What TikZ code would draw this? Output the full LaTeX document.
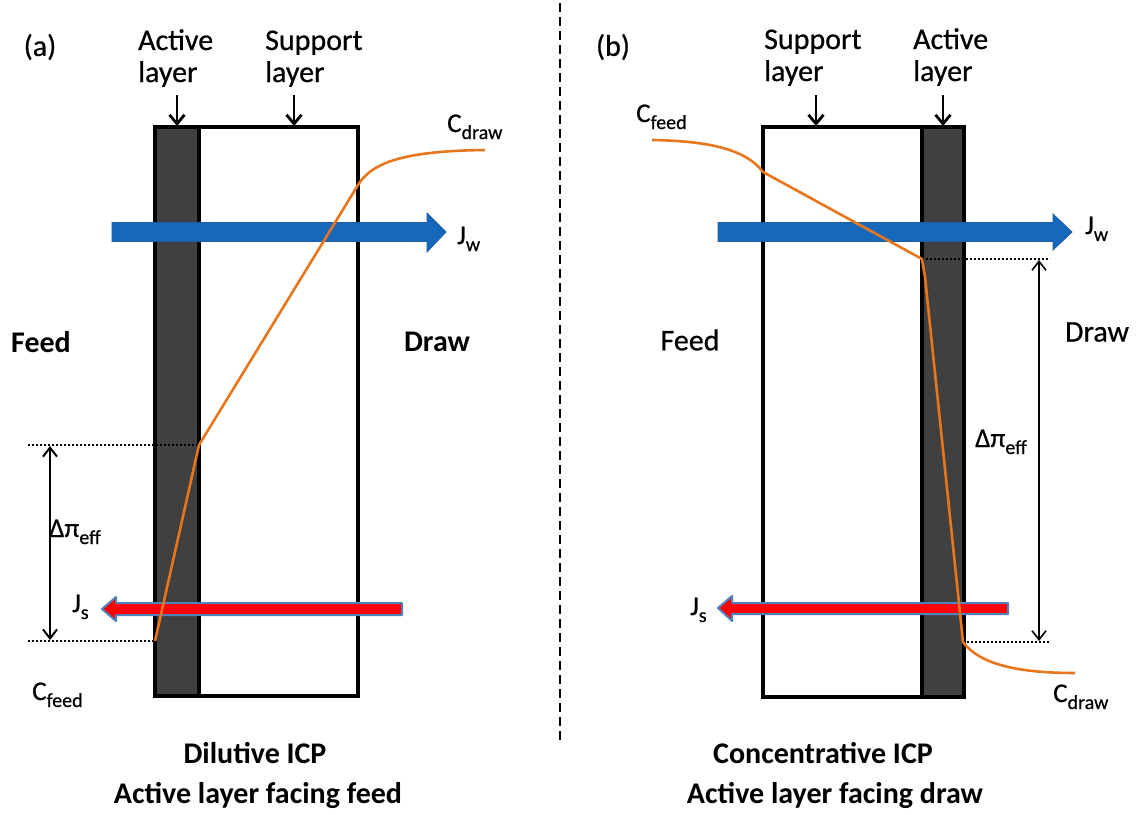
\documentclass[tikz,border=0pt]{standalone}
\usepackage{fontspec}
\setmainfont{Carlito}[UprightFeatures={FakeBold=0.6}]
\usetikzlibrary{arrows.meta}
\definecolor{jwblue}{RGB}{22,104,186}
\definecolor{jwedge}{RGB}{30,90,160}
\definecolor{jsred}{RGB}{255,0,0}
\definecolor{jsedge}{RGB}{79,129,189}
\definecolor{profilecol}{RGB}{232,118,28}
\definecolor{activegray}{RGB}{64,64,64}
\newcommand\subtxt[1]{\raisebox{-7pt}{\fontsize{20}{20}\selectfont #1}}
\begin{document}
\begin{tikzpicture}[x=1pt,y=-1pt,
  lbl/.style={inner sep=0pt, font=\fontsize{30}{36}\selectfont},
  lblb/.style={inner sep=0pt, font=\fontsize{30}{36}\selectfont\bfseries},
  conc/.style={inner sep=0pt, font=\fontsize{27}{32}\selectfont},
  memb/.style={line width=3.2pt},
  pointer/.style={line width=2.8pt, -{Straight Barb[length=9pt,width=15pt]}},
  dimarrow/.style={line width=2pt, {Straight Barb[length=9pt,width=14pt]}-{Straight Barb[length=9pt,width=14pt]}},
  guide/.style={line width=2pt, dash pattern=on 2pt off 2pt},
  profile/.style={draw=profilecol, line width=2.6pt, line join=round},
  waterflux/.style={fill=jwblue, draw=jwedge, line width=0.8pt},
  soluteflux/.style={fill=jsred, draw=jsedge, line width=2pt, line join=round},
  divider/.style={line width=2.5pt, dash pattern=on 9pt off 5pt}
]
\useasboundingbox (0,0) rectangle (1137,814);

% divider
\coordinate (divtop) at (560,3);
\coordinate (divbot) at (560,740);
\draw[divider] (divtop) -- (divbot);

% ================= panel (a) =================
\draw[memb, fill=white] (155,127) rectangle (358,696);
\draw[memb, fill=activegray] (155,127) rectangle (199,696);

\node[lbl, anchor=center] (tagA) at (40,47) {(a)};
\node[lbl, anchor=base west] (actA1) at (138,50) {Active};
\node[lbl, anchor=base west] (actA2) at (138,82) {layer};
\node[lbl, anchor=base west] (supA1) at (265,50) {Support};
\node[lbl, anchor=base west] (supA2) at (265,82) {layer};
\coordinate (pA1s) at (177,95); \coordinate (pA1e) at (177,126);
\coordinate (pA2s) at (294,95); \coordinate (pA2e) at (294,126);
\draw[pointer] (pA1s) -- (pA1e);
\draw[pointer] (pA2s) -- (pA2e);

% Jw arrow (a)
\draw[waterflux] (112,222.5) -- (427,222.5) -- (427,213) -- (446,232) -- (427,252) -- (427,241.5) -- (112,241.5) -- cycle;
\node[conc, anchor=base west] (jwA) at (457,244) {J\subtxt{w}};

% Js arrow (a)
\draw[soluteflux] (402,603) -- (116,603) -- (116,597) -- (102,609) -- (116,621) -- (116,615) -- (402,615) -- cycle;
\node[conc, anchor=base west] (jsA) at (72,612) {J\subtxt{s}};

% guides (a)
\coordinate (gA1a) at (28,445); \coordinate (gA1b) at (199,445);
\coordinate (gA2a) at (28,641); \coordinate (gA2b) at (155,641);
\draw[guide] (gA1a) -- (gA1b);
\draw[guide] (gA2a) -- (gA2b);
\coordinate (dA1) at (50,446); \coordinate (dA2) at (50,640);
\draw[dimarrow] (dA1) -- (dA2);
\node[conc, anchor=base west] (dpiA) at (49,537) {Δπ\subtxt{eff}};

\node[lblb, anchor=center] (feedA) at (41,342) {Feed};
\node[lblb, anchor=center] (drawA) at (437,342) {Draw};
\node[conc, anchor=base west] (cdrawA) at (447,132) {C\subtxt{draw}};
\node[conc, anchor=base west] (cfeedA) at (32,700) {C\subtxt{feed}};

% profile (a)
\coordinate (prA0) at (155,641);
\coordinate (prA1) at (199,445);
\coordinate (prA2) at (358,185);
\coordinate (prA3) at (485,150);
\draw[profile] (prA0) -- (prA1) -- (prA2) .. controls (372,162) and (405,151) .. (prA3);

\node[lblb, anchor=center] (titA1) at (255,753) {Dilutive ICP};
\node[lblb, anchor=center] (titA2) at (258,795) {Active layer facing feed};

% ================= panel (b) =================
\draw[memb, fill=white] (763,127) rectangle (964,697);
\draw[memb, fill=activegray] (922,127) rectangle (964,697);

\node[lbl, anchor=center] (tagB) at (613,47) {(b)};
\node[lbl, anchor=base west] (supB1) at (764,49) {Support};
\node[lbl, anchor=base west] (supB2) at (764,81) {layer};
\node[lbl, anchor=base west] (actB1) at (913,49) {Active};
\node[lbl, anchor=base west] (actB2) at (913,81) {layer};
\coordinate (pB1s) at (816,95); \coordinate (pB1e) at (816,126);
\coordinate (pB2s) at (943,95); \coordinate (pB2e) at (943,126);
\draw[pointer] (pB1s) -- (pB1e);
\draw[pointer] (pB2s) -- (pB2e);

% Jw arrow (b)
\draw[waterflux] (718,222.5) -- (1053,222.5) -- (1053,214) -- (1072,232) -- (1053,250) -- (1053,241.5) -- (718,241.5) -- cycle;
\node[conc, anchor=base west] (jwB) at (1085,234) {J\subtxt{w}};

% Js arrow (b)
\draw[soluteflux] (1008,603) -- (732,603) -- (732,596) -- (718,608) -- (732,621) -- (732,614) -- (1008,614) -- cycle;
\node[conc, anchor=base west] (jsB) at (690,615) {J\subtxt{s}};

% guides (b)
\coordinate (gB1a) at (922,259); \coordinate (gB1b) at (1050,259);
\coordinate (gB2a) at (963,642); \coordinate (gB2b) at (1050,642);
\draw[guide] (gB1a) -- (gB1b);
\draw[guide] (gB2a) -- (gB2b);
\coordinate (dB1) at (1039,260); \coordinate (dB2) at (1039,641);
\draw[dimarrow, line width=1.6pt] (dB1) -- (dB2);
\node[conc, anchor=base west] (dpiB) at (975,447) {Δπ\subtxt{eff}};

\node[lbl, anchor=center] (feedB) at (690,340) {Feed};
\node[lbl, anchor=center] (drawB) at (1097,332) {Draw};
\node[conc, anchor=base west] (cfeedB) at (636,122) {C\subtxt{feed}};
\node[conc, anchor=base west] (cdrawB) at (1053,702) {C\subtxt{draw}};

% profile (b)
\coordinate (prB0) at (652,140);
\coordinate (prB1) at (763,172);
\coordinate (prB2) at (922,259);
\coordinate (prB3) at (925,277);
\coordinate (prB4) at (963,642);
\coordinate (prB5) at (1075,673);
\draw[profile] (prB0) .. controls (705,141) and (745,148) .. (prB1) -- (prB2) -- (prB3) -- (prB4) .. controls (980,665) and (1020,673) .. (prB5);

\node[lblb, anchor=center] (titB1) at (823,753) {Concentrative ICP};
\node[lblb, anchor=center] (titB2) at (835,795) {Active layer facing draw};
\end{tikzpicture}
\end{document}
